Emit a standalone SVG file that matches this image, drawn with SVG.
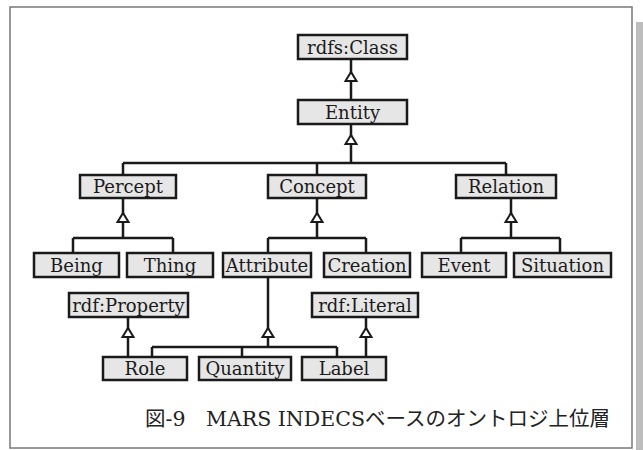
<svg xmlns="http://www.w3.org/2000/svg" width="643" height="450" viewBox="0 0 643 450">
<style>
.box{fill:#e6e6e6;stroke:#1a1a1a;stroke-width:2.5}
.lbl{font-family:"DejaVu Serif","Liberation Serif",serif;font-size:18px;fill:#1a1a1a;text-anchor:middle}
.ln{fill:none;stroke:#1a1a1a;stroke-width:2.5}
.tri{fill:#fff;stroke:#1a1a1a;stroke-width:2;stroke-linejoin:miter}
.cap{font-family:"DejaVu Serif","Liberation Serif","Noto Sans CJK JP",serif;font-size:20.5px;fill:#222}
</style>
<defs>
<polygon id="tri" class="tri" points="0,0 -5.5,9 5.5,9"/>
</defs>
<rect x="0" y="0" width="643" height="450" fill="#fff"/>
<rect x="636" y="22" width="7" height="428" fill="#bdbdbd"/>
<rect x="10" y="7" width="622" height="441" fill="#fff" stroke="#777" stroke-width="1.5"/>
<g id="connectors">
<path class="ln" d="M351 59V100M351 124V163M123 163H506M123 163V175M317 163V175M506 163V175"/>
<path class="ln" d="M123 198V238M73 238H173M73 238V253M173 238V253"/>
<path class="ln" d="M317 198V238M268 238H366M268 238V253M366 238V253"/>
<path class="ln" d="M511 198V238M461 238H560M461 238V253M560 238V253"/>
<path class="ln" d="M268 277V347M152 347H337M152 347V357M242 347V357M337 347V357"/>
<path class="ln" d="M128 317V357M366 317V357"/>
<use href="#tri" x="351" y="72"/>
<use href="#tri" x="351" y="135"/>
<use href="#tri" x="123" y="213"/>
<use href="#tri" x="317" y="213"/>
<use href="#tri" x="511" y="213"/>
<use href="#tri" x="268" y="328"/>
<use href="#tri" x="128" y="328"/>
<use href="#tri" x="366" y="328"/>
</g>
<g id="rdfsClass"><rect class="box" x="298" y="35" width="109" height="24"/><text class="lbl" x="352.5" y="53.5">rdfs:Class</text></g>
<g id="entity"><rect class="box" x="298" y="100" width="109" height="24"/><text class="lbl" x="352.5" y="118.5">Entity</text></g>
<g id="percept"><rect class="box" x="80" y="175" width="96" height="23"/><text class="lbl" x="128" y="193">Percept</text></g>
<g id="concept"><rect class="box" x="268" y="175" width="98" height="23"/><text class="lbl" x="317" y="193">Concept</text></g>
<g id="relation"><rect class="box" x="456" y="175" width="100" height="23"/><text class="lbl" x="506" y="193">Relation</text></g>
<g id="being"><rect class="box" x="34" y="253" width="85" height="24"/><text class="lbl" x="76.5" y="271.5">Being</text></g>
<g id="thing"><rect class="box" x="127" y="253" width="86" height="24"/><text class="lbl" x="170" y="271.5">Thing</text></g>
<g id="attribute"><rect class="box" x="223" y="253" width="88" height="24"/><text class="lbl" x="267" y="271.5">Attribute</text></g>
<g id="creation"><rect class="box" x="324" y="253" width="86" height="24"/><text class="lbl" x="367" y="271.5">Creation</text></g>
<g id="event"><rect class="box" x="422" y="253" width="84" height="24"/><text class="lbl" x="464" y="271.5">Event</text></g>
<g id="situation"><rect class="box" x="514" y="253" width="97" height="24"/><text class="lbl" x="562.5" y="271.5">Situation</text></g>
<g id="rdfProperty"><rect class="box" x="69" y="293" width="119" height="24"/><text class="lbl" x="128.5" y="311.5">rdf:Property</text></g>
<g id="rdfLiteral"><rect class="box" x="312" y="293" width="106" height="24"/><text class="lbl" x="365" y="311.5">rdf:Literal</text></g>
<g id="role"><rect class="box" x="103" y="357" width="84" height="23"/><text class="lbl" x="145" y="375">Role</text></g>
<g id="quantity"><rect class="box" x="199" y="357" width="92" height="23"/><text class="lbl" x="245" y="375">Quantity</text></g>
<g id="label"><rect class="box" x="302" y="357" width="84" height="23"/><text class="lbl" x="344" y="375">Label</text></g>
<text class="cap" x="145" y="426">図-9　MARS INDECSベースのオントロジ上位層</text>
</svg>
